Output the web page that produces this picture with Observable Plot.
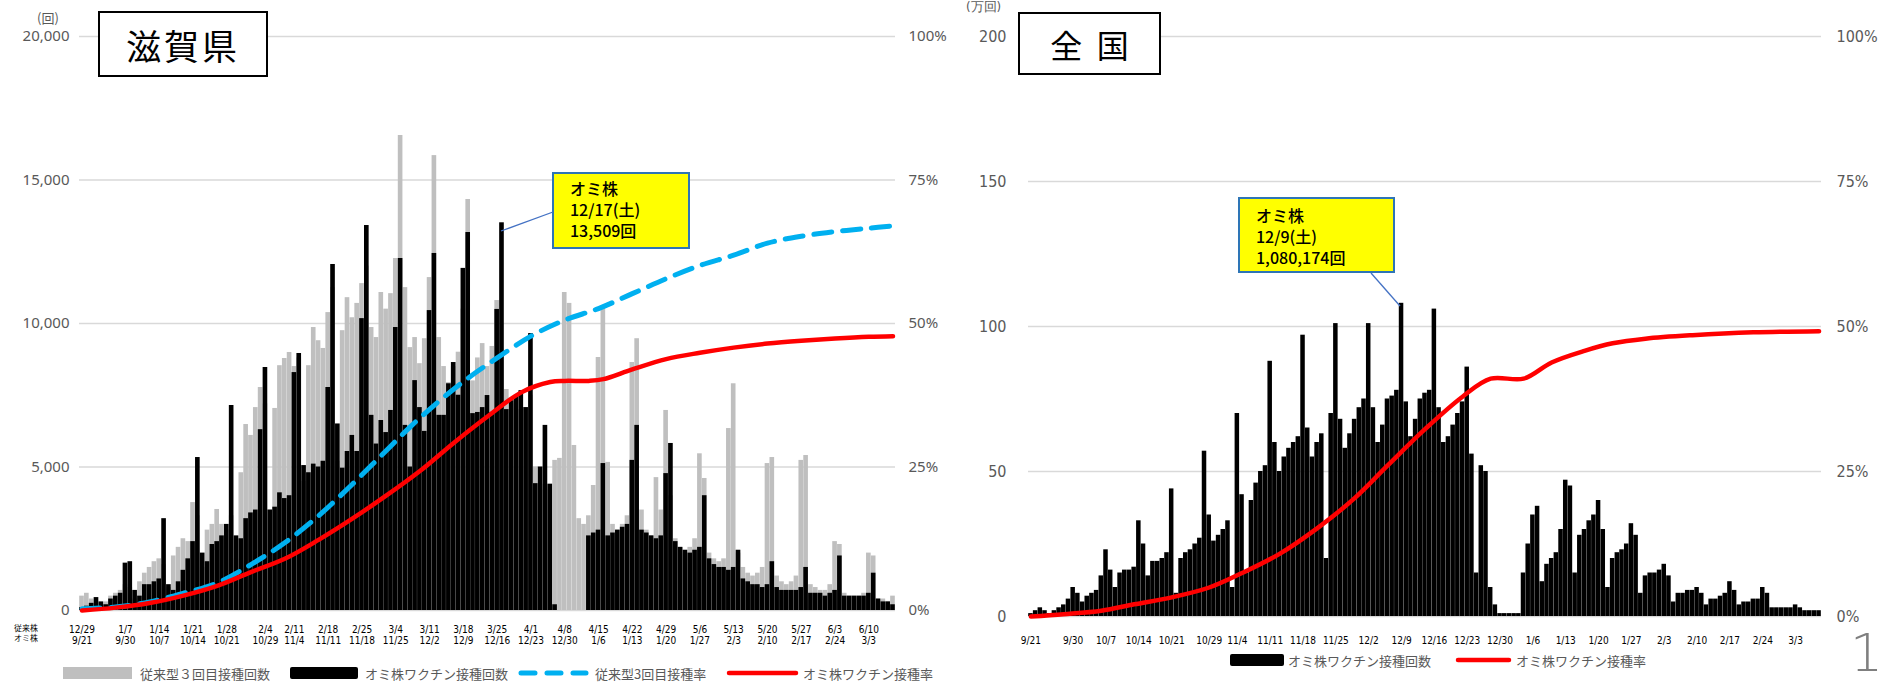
<!DOCTYPE html>
<html><head><meta charset="utf-8">
<script src="https://cdn.jsdelivr.net/npm/d3@7"></script>
<script src="https://cdn.jsdelivr.net/npm/@observablehq/plot@0.6"></script>
<style>
html,body{margin:0;padding:0;background:#fff;}
#root{position:relative;width:1894px;height:683px;overflow:hidden;background:#fff;font-family:"Noto Sans CJK JP","Noto Sans",sans-serif;}
.abs{position:absolute;}
.title{position:absolute;border:2px solid #000;background:#fff;box-sizing:border-box;display:flex;align-items:center;justify-content:center;color:#000;}
.note{position:absolute;background:#ffff00;border:2px solid #2e75b6;box-sizing:border-box;color:#000;font-weight:500;}
.note div{height:21px;line-height:21px;white-space:nowrap;}
.leg{position:absolute;font-size:13px;color:#595959;white-space:nowrap;line-height:13px;height:13px;}
.sw{position:absolute;}
.unit{position:absolute;font-size:13px;color:#595959;white-space:nowrap;}
</style></head>
<body><div id="root"></div>
<script>
// ---------------- data ----------------
// daily bars; day 0 = 2021-12-29 (従来株) / 2022-09-21 (オミ株)
const shigaOmicron = [
 100,150,250,450,300,200,400,
 500,600,1650,1700,700,500,900,
 900,1000,1100,3200,900,700,1000,
 1400,1800,2400,5330,2000,1700,2300,
 2400,2600,3000,7143,2600,2500,3200,
 3400,3500,6300,8467,3500,3600,4100,
 3900,4000,8290,8955,5050,4800,5100,
 5000,5200,7770,12056,6500,4960,5540,
 6100,5540,10170,13414,6800,5800,6620,
 6200,6970,9860,12265,6450,5000,8010,
 7070,6240,10450,12440,6800,6800,7900,
 8640,7500,11920,13170,6860,6900,7070,
 7490,6900,10490,13509,7000,7310,7490,
 7660,7070,9650,4420,5000,6450,4400,
 200,0,0,0,0,0,0,
 2600,2700,2800,5120,2600,2700,2800,
 2900,3000,5230,6450,2800,2700,2600,
 2500,2600,4770,5820,2400,2200,2100,
 2000,2100,2200,4000,1800,1600,1500,
 1500,1400,1500,2100,1100,1000,900,
 900,800,900,1700,800,700,700,
 700,700,800,1500,600,600,600,
 500,600,700,1900,500,500,500,
 500,500,600,1300,400,300,300,
 200];
const shigaConventional = [
 500,600,400,250,150,300,500,
 600,700,900,800,400,1000,1300,
 1500,1700,1800,1600,800,1900,2200,
 2500,2400,3760,3300,1500,2800,3000,
 3520,3000,2800,3300,1800,4800,6480,
 6100,7070,7770,7200,3500,7040,8530,
 8780,8990,8500,8800,4500,8530,9860,
 9400,9130,10380,11250,5200,9750,10900,
 10200,10700,11390,12000,9860,9510,11080,
 10500,11040,12265,16550,11250,9160,9510,
 8600,9470,11600,15850,9510,8500,7940,
 8500,9000,10500,14320,8000,8800,9300,
 8500,9200,10800,9000,7700,7200,7500,
 7000,7070,7500,5000,4400,4200,4400,
 5230,5300,11080,10700,5750,3200,3000,
 3300,4355,8815,10520,5160,3000,2800,
 3000,3300,8640,9470,3500,2800,2600,
 4630,3500,6970,4000,2500,2200,2000,
 2200,2500,5460,4600,2000,1800,1700,
 1800,6340,7900,2000,1500,1300,1200,
 1300,1500,5120,5330,1200,1000,900,
 1000,1200,5230,5400,900,800,700,
 700,900,2400,2300,600,500,500,
 500,600,2000,1900,400,400,300,
 500];
// national, 万回; day 0 = 9/21
const nationalOmicron = [
 1,2,3,2,1,2,3,
 4,6,10,8,5,7,8,
 9,14,23,16,10,15,16,
 16,17,33,25,14,19,19,
 20,22,44,8,20,22,23,
 25,27,57,35,26,28,30,
 33,10,70,42,15,40,46,
 50,52,88,60,50,55,58,
 60,62,97,65,55,60,63,
 20,70,101,68,58,63,68,
 72,75,101,72,60,66,75,
 76,78,108,74,62,68,75,
 77,78,106,72,60,62,66,
 70,74,86,56,15,52,50,
 10,4,1,1,1,1,1,
 15,25,35,38,12,18,20,
 22,30,47,45,15,28,30,
 33,35,40,30,10,20,22,
 23,25,32,28,8,14,15,
 15,16,18,14,5,8,8,
 9,9,10,8,4,6,6,
 7,8,12,9,4,5,5,
 6,6,10,8,3,3,3,
 3,3,4,3,2,2,2,
 2];
// cumulative rates (%), sampled days
const shigaOmiRateDay = [0,7,14,21,28,35,42,49,56,63,70,77,84,91,97,100,105,108,114,121,128,135,142,149,156,163,168];
const shigaOmiRatePct = [0,0.5,1.3,2.6,4.3,6.7,9.0,12.3,16.0,20.0,24.3,29.2,33.8,38.0,39.8,40.0,40.0,40.3,42.0,43.8,44.9,45.8,46.5,47.0,47.4,47.7,47.8];
const shigaConvRateDay = [0,7,14,21,28,35,42,49,56,62,68,74,80,86,93,100,107,114,121,128,135,142,149,156,163,168];
const shigaConvRatePct = [0.3,0.6,1.5,3.0,4.8,8.0,11.8,16.5,22.0,27.0,32.0,36.5,40.5,44.0,47.8,50.6,52.6,55.2,57.8,60.1,61.9,64.0,65.2,66.0,66.6,67.0];
const natRateDay = [0,7,15,22,30,38,45,53,61,69,76,84,92,98,105,111,118,124,131,141,154,168];
const natRatePct = [0,0.4,1.0,2.1,3.3,5.0,7.5,10.8,15.2,20.4,26.0,32.3,37.9,41.0,41.0,43.8,45.8,47.1,47.9,48.5,49.0,49.2];
// tick labels
const tickDays = [0,9,16,23,30,38,44,51,58,65,72,79,86,93,100,107,114,121,128,135,142,149,156,163];
const convLabels = ["12/29","1/7","1/14","1/21","1/28","2/4","2/11","2/18","2/25","3/4","3/11","3/18","3/25","4/1","4/8","4/15","4/22","4/29","5/6","5/13","5/20","5/27","6/3","6/10"];
const omiLabels = ["9/21","9/30","10/7","10/14","10/21","10/29","11/4","11/11","11/18","11/25","12/2","12/9","12/16","12/23","12/30","1/6","1/13","1/20","1/27","2/3","2/10","2/17","2/24","3/3"];
const shigaTicks = [0,5000,10000,15000,20000];
const natTicks = [0,50,100,150,200];

// ---------------- build ----------------
const root = document.getElementById("root");
const days = d3.range(shigaOmicron.length);
const shigaRows = days.map(i => ({i, conv: shigaConventional[i], omi: shigaOmicron[i]}));
const natRows = days.map(i => ({i, v: nationalOmicron[i]}));
const shigaOmiRate = shigaOmiRateDay.map((i, k) => ({i, pct: shigaOmiRatePct[k]}));
const shigaConvRate = shigaConvRateDay.map((i, k) => ({i, pct: shigaConvRatePct[k]}));
const natRate = natRateDay.map((i, k) => ({i, pct: natRatePct[k]}));
const tickIdx = new Map(tickDays.map((d, k) => [d, k]));
const NUMFONT = "'Noto Sans', sans-serif";
const NARROW = "'Liberation Sans Narrow','DejaVu Sans Condensed','Noto Sans',sans-serif";

const left = Plot.plot({
  width: 960, height: 683,
  marginLeft: 79, marginRight: 65, marginTop: 36, marginBottom: 73,
  x: {type: "band", domain: days, padding: 0.04, axis: null, label: null},
  y: {domain: [0, 20000], axis: null, label: null},
  style: {background: "transparent", color: "#595959", overflow: "visible"},
  marks: [
    Plot.gridY(shigaTicks, {stroke: "#d9d9d9", strokeOpacity: 1, strokeWidth: 1.5}),
    Plot.barY(shigaRows, {x: "i", y: "conv", fill: "#bfbfbf"}),
    Plot.barY(shigaRows, {x: "i", y: "omi", fill: "#000000"}),
    Plot.line(shigaConvRate, {x: "i", y: d => d.pct * 200, stroke: "#00b0f0", strokeWidth: 5, strokeDasharray: "18,11", strokeLinecap: "round", curve: "catmull-rom"}),
    Plot.line(shigaOmiRate, {x: "i", y: d => d.pct * 200, stroke: "#ff0000", strokeWidth: 4.5, curve: "catmull-rom"}),
    Plot.axisY({ticks: shigaTicks, label: null, tickFormat: d3.format(","), tickSize: 0, tickPadding: 10, fontSize: 15, fontFamily: NUMFONT, fill: "#595959"}),
    Plot.axisY({anchor: "right", label: null, ticks: shigaTicks, tickFormat: d => (d / 200) + "%", tickSize: 0, tickPadding: 13, fontSize: 15, fontFamily: NUMFONT, fill: "#595959"}),
    Plot.axisX({ticks: tickDays, label: null, tickFormat: d => convLabels[tickIdx.get(d)] + "\n" + omiLabels[tickIdx.get(d)], tickSize: 0, tickPadding: 15, fontSize: 10, lineHeight: 1.1, fontFamily: NARROW, fill: "#000"})
  ]
});
left.style.position = "absolute"; left.style.left = "0px"; left.style.top = "0px";
root.appendChild(left);

const right = Plot.plot({
  width: 944, height: 683,
  marginLeft: 78, marginRight: 73, marginTop: 36, marginBottom: 67,
  x: {type: "band", domain: days, padding: 0.04, axis: null, label: null},
  y: {domain: [0, 200], axis: null, label: null},
  style: {background: "transparent", color: "#595959", overflow: "visible"},
  marks: [
    Plot.gridY(natTicks, {stroke: "#d9d9d9", strokeOpacity: 1, strokeWidth: 1.5}),
    Plot.barY(natRows, {x: "i", y: "v", fill: "#000000"}),
    Plot.line(natRate, {x: "i", y: d => d.pct * 2, stroke: "#ff0000", strokeWidth: 4.5, curve: "catmull-rom"}),
    Plot.axisY({ticks: natTicks, label: null, tickFormat: d3.format(","), tickSize: 0, tickPadding: 22, fontSize: 16, fontFamily: NARROW, fill: "#595959"}),
    Plot.axisY({anchor: "right", label: null, ticks: natTicks, tickFormat: d => (d / 2) + "%", tickSize: 0, tickPadding: 15, fontSize: 16, fontFamily: NARROW, fill: "#595959"}),
    Plot.axisX({ticks: tickDays, label: null, tickFormat: d => omiLabels[tickIdx.get(d)], tickSize: 0, tickPadding: 20, fontSize: 10, fontFamily: NARROW, fill: "#000"})
  ]
});
right.style.position = "absolute"; right.style.left = "950px"; right.style.top = "0px";
root.appendChild(right);

function el(tag, cls, css, html) {
  const e = document.createElement(tag);
  if (cls) e.className = cls;
  Object.assign(e.style, css);
  if (html != null) e.innerHTML = html;
  root.appendChild(e);
  return e;
}
// titles
el("div", "title", {left: "98px", top: "11px", width: "170px", height: "66px", fontSize: "35px", letterSpacing: "3px"}, "滋賀県");
el("div", "title", {left: "1018px", top: "12px", width: "143px", height: "63px", fontSize: "32px"}, "全&nbsp;&nbsp;国");
el("div", "unit", {left: "37px", top: "8px"}, "(回)");
el("div", "unit", {left: "966px", top: "-2px", fontFamily: NARROW}, "(万回)");
el("div", "unit", {left: "14px", top: "623px", fontSize: "8px", lineHeight: "10px", color: "#000"}, "従来株<br>オミ株");

// annotations
el("div", "note", {left: "552px", top: "172px", width: "138px", height: "77px", fontSize: "16px", padding: "4px 0 0 16px"}, "<div>オミ株</div><div>12/17(土)</div><div>13,509回</div>");
el("div", "note", {left: "1238px", top: "197px", width: "157px", height: "76px", fontSize: "16px", padding: "6px 0 0 16px"}, "<div>オミ株</div><div>12/9(土)</div><div>1,080,174回</div>");

// leader lines + legend line swatches
const ns = "http://www.w3.org/2000/svg";
const ov = document.createElementNS(ns, "svg");
ov.setAttribute("width", 1894); ov.setAttribute("height", 683);
ov.style.position = "absolute"; ov.style.left = "0"; ov.style.top = "0"; ov.style.pointerEvents = "none";
ov.innerHTML = `
 <line x1="553" y1="212" x2="501" y2="231" stroke="#4472c4" stroke-width="1.3"/>
 <line x1="1371" y1="273" x2="1400" y2="306" stroke="#4472c4" stroke-width="1.3"/>
 <line x1="521" y1="673" x2="586" y2="673" stroke="#00b0f0" stroke-width="5" stroke-dasharray="14,12" stroke-linecap="round"/>
 <line x1="729" y1="673" x2="796" y2="673" stroke="#ff0000" stroke-width="4.5" stroke-linecap="round"/>
 <line x1="1458" y1="660" x2="1509" y2="660" stroke="#ff0000" stroke-width="4.5" stroke-linecap="round"/>`;
root.appendChild(ov);

// legends
el("div", "sw", {left: "63px", top: "667px", width: "69px", height: "12px", background: "#bfbfbf"});
el("div", "leg", {left: "140px", top: "667px"}, "従来型３回目接種回数");
el("div", "sw", {left: "290px", top: "667px", width: "68px", height: "12px", background: "#000", borderRadius: "2px"});
el("div", "leg", {left: "365px", top: "667px"}, "オミ株ワクチン接種回数");
el("div", "leg", {left: "595px", top: "667px"}, "従来型3回目接種率");
el("div", "leg", {left: "803px", top: "667px"}, "オミ株ワクチン接種率");
el("div", "sw", {left: "1230px", top: "654px", width: "54px", height: "12px", background: "#000", borderRadius: "2px"});
el("div", "leg", {left: "1288px", top: "654px"}, "オミ株ワクチン接種回数");
el("div", "leg", {left: "1516px", top: "654px"}, "オミ株ワクチン接種率");
// page number
el("div", "abs", {left: "1850px", top: "624px", fontSize: "52px", color: "#7f7f7f", fontFamily: "'DejaVu Sans','Noto Sans',sans-serif", fontWeight: "300", lineHeight: "58px"}, "1");
</script>
</body></html>
